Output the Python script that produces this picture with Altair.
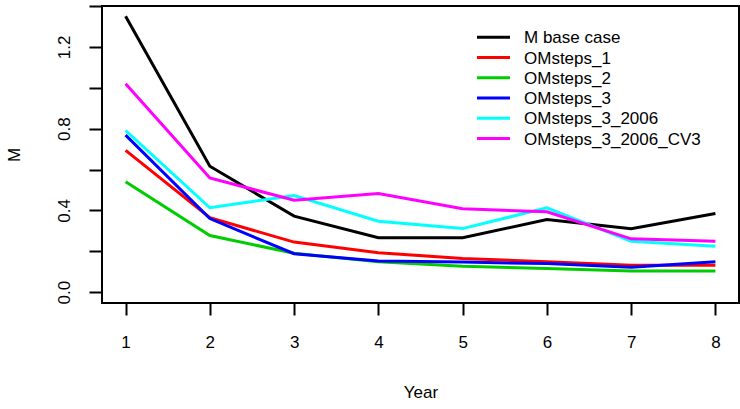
import altair as alt
import pandas as pd

years = [1, 2, 3, 4, 5, 6, 7, 8]
series = ["M base case", "OMsteps_1", "OMsteps_2", "OMsteps_3",
          "OMsteps_3_2006", "OMsteps_3_2006_CV3"]
colors = ["#000000", "#FF0000", "#00CD00", "#0000FF", "#00FFFF", "#FF00FF"]

m_base = [1.35, 0.616, 0.372, 0.266, 0.266, 0.355, 0.310, 0.385]
om1 = [0.694, 0.364, 0.245, 0.193, 0.165, 0.149, 0.132, 0.132]
om2 = [0.540, 0.277, 0.190, 0.149, 0.127, 0.116, 0.103, 0.103]
om3 = [0.768, 0.360, 0.188, 0.152, 0.147, 0.140, 0.122, 0.149]
om3_2006 = [0.791, 0.413, 0.473, 0.347, 0.311, 0.413, 0.249, 0.225]
om3_2006_cv3 = [1.020, 0.559, 0.450, 0.483, 0.408, 0.393, 0.261, 0.249]

values = [m_base, om1, om2, om3, om3_2006, om3_2006_cv3]
y_ticks = [0.0, 0.2, 0.4, 0.6, 0.8, 1.0, 1.2, 1.4]

rows = []
for i, (name, vals) in enumerate(zip(series, values)):
    for yr, v in zip(years, vals):
        rows.append({"Year": yr, "M": v, "Series": name, "order": i})
df = pd.DataFrame(rows)
legend_df = pd.DataFrame({"Series": series, "idx": list(range(len(series)))})

FONT = "Liberation Sans"
color_scale = alt.Scale(domain=series, range=colors)

lines = alt.Chart(df).mark_line(strokeWidth=3, clip=True).encode(
    x=alt.X("Year:Q",
            scale=alt.Scale(domain=[0.72, 8.28], nice=False, zero=False),
            axis=alt.Axis(values=years, format="d", title="Year", grid=False,
                          domain=False, tickSize=12, tickWidth=2, tickColor="black",
                          labelFontSize=17, labelFont=FONT, labelColor="black",
                          labelPadding=19, labelBaseline="top",
                          titleFontSize=17, titleFont=FONT, titleFontWeight="normal",
                          titleColor="black", titleBaseline="middle", titleY=89)),
    y=alt.Y("M:Q",
            scale=alt.Scale(domain=[-0.053, 1.40], nice=False, zero=False),
            axis=alt.Axis(values=y_ticks, title="M", grid=False, domain=False,
                          tickSize=13, tickWidth=2, tickColor="black",
                          labelExpr="round(datum.value*10) % 4 == 0 ? format(datum.value, '.1f') : ''",
                          labelAngle=270, labelAlign="center", labelBaseline="bottom",
                          labelFontSize=17, labelFont=FONT, labelColor="black",
                          labelPadding=16,
                          titleFontSize=17, titleFont=FONT, titleFontWeight="normal",
                          titleColor="black", titleAngle=270, titleBaseline="middle",
                          titleX=-88, titleY=148.5)),
    color=alt.Color("Series:N", scale=color_scale, legend=None),
    order=alt.Order("order:Q"),
    detail="Series:N",
)

leg_base = alt.Chart(legend_df).transform_calculate(ly="31.3 + 20.25 * datum.idx")

leg_rules = leg_base.mark_rule(strokeWidth=3).encode(
    x=alt.value(375), x2=alt.value(408),
    y=alt.Y("ly:Q", scale=None),
    color=alt.Color("Series:N", scale=color_scale, legend=None),
)
leg_text = leg_base.mark_text(align="left", baseline="middle", fontSize=17,
                              font=FONT, color="black", dy=1).encode(
    x=alt.value(422),
    y=alt.Y("ly:Q", scale=None),
    text="Series:N",
)

chart = alt.layer(lines, leg_rules, leg_text).properties(
    width=637, height=297,
    autosize=alt.AutoSizeParams(type="none"),
    padding={"left": 102, "top": 6, "right": 1, "bottom": 106},
).configure_view(stroke="black", strokeWidth=2)

chart.save("out.html", embed_options={"renderer": "svg", "actions": False})
